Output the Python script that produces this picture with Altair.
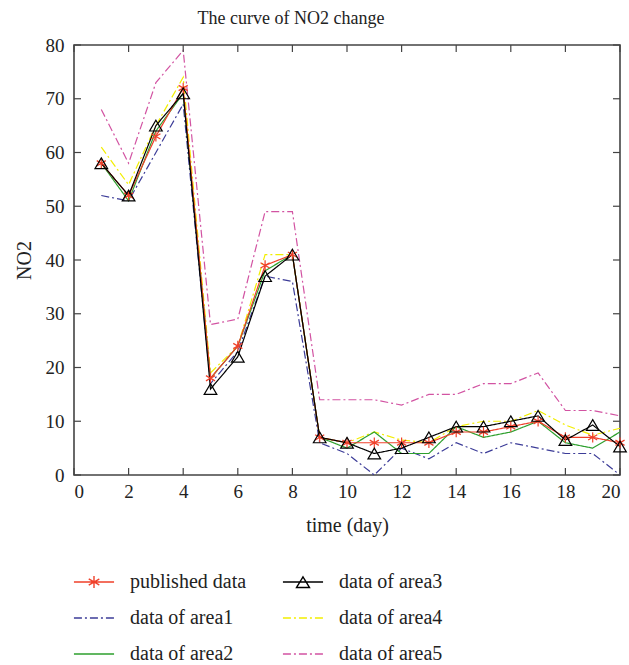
import altair as alt
import pandas as pd

days = list(range(1, 21))
published = [58, 52, 63, 72, 18, 24, 39, 41, 7, 6, 6, 6, 6, 8, 8, 9, 10, 7, 7, 6]
area1 = [52, 51, 60, 69, 17, 23, 37, 36, 6, 4, 0, 5, 3, 6, 4, 6, 5, 4, 4, 0]
area2 = [58, 51, 64, 71, 18, 24, 38, 41, 7, 5, 8, 4, 4, 9, 7, 8, 10, 6, 5, 8]
area3 = [58, 52, 65, 71, 16, 22, 37, 41, 7, 6, 4, 5, 7, 9, 9, 10, 11, 6.5, 9.3, 5.3]
area4 = [61, 54, 65, 74, 19, 24, 41, 41, 7, 6, 8, 6.5, 6, 9, 10, 10, 12, 9.3, 7.4, 8.7]
area5 = [68, 58, 73, 79, 28, 29, 49, 49, 14, 14, 14, 13, 15, 15, 17, 17, 19, 12, 12, 11]

xticks = [0, 2, 4, 6, 8, 10, 12, 14, 16, 18, 20]
yticks = [0, 10, 20, 30, 40, 50, 60, 70, 80]

draw_order = [
    ("data of area5", area5),
    ("data of area4", area4),
    ("data of area1", area1),
    ("data of area2", area2),
    ("published data", published),
    ("data of area3", area3),
]
rows = []
for name, vals in draw_order:
    for d, v in zip(days, vals):
        rows.append({"day": d, "NO2": v, "series": name})
df = pd.DataFrame(rows)

legend_order = ["published data", "data of area1", "data of area2",
                "data of area3", "data of area4", "data of area5"]
color_range = ["#f0402a", "#3c3c98", "#2ea02e", "#000000", "#f2ee00", "#d253a2"]
dash_range = [[1, 0], [8, 3, 2, 3], [1, 0], [1, 0], [8, 3, 2, 3], [8, 3, 2, 3]]

FONT = "Liberation Serif"
TXT = "#222222"

ASTER = "M0,-1V1M-0.87,-0.5L0.87,0.5M-0.87,0.5L0.87,-0.5"
TRI = "M0,-0.85L1,0.85H-1Z"
LEG_LINE = "M-1.18,0H1.18"
LEG_ASTER = LEG_LINE + "M0,-0.36V0.36M-0.31,-0.18L0.31,0.18M-0.31,0.18L0.31,-0.18"
LEG_TRI = LEG_LINE + "M0,-0.3L0.38,0.32H-0.38Z"
shape_range = [LEG_ASTER, LEG_LINE, LEG_LINE, LEG_TRI, LEG_LINE, LEG_LINE]

W, H = 546, 430

xscale = alt.Scale(domain=[0, 20], nice=False, zero=False)
yscale = alt.Scale(domain=[0, 80], nice=False)

xaxis = alt.Axis(values=xticks, title="time (day)", domain=False, ticks=False,
                 grid=False, labelPadding=7, titlePadding=14, format="d",
                 labelFont=FONT, labelFontSize=19, labelColor=TXT,
                 titleFont=FONT, titleFontSize=20, titleColor=TXT, titleFontWeight="normal")
yaxis = alt.Axis(values=yticks, title="NO2", domain=False, ticks=False,
                 grid=False, labelPadding=10, titlePadding=11, format="d",
                 labelFont=FONT, labelFontSize=19, labelColor=TXT,
                 titleFont=FONT, titleFontSize=20, titleColor=TXT, titleFontWeight="normal")

legend = alt.Legend(
    title=None, orient="none", legendX=2, legendY=519, columns=2,
    symbolSize=1156, symbolStrokeWidth=1.4, symbolFillColor="transparent",
    labelFont=FONT, labelFontSize=20, labelColor=TXT, labelOffset=18,
    columnPadding=33, rowPadding=8, padding=0, symbolOpacity=1,
)

color_enc = alt.Color("series:N", scale=alt.Scale(domain=legend_order, range=color_range),
                      legend=legend)
dash_enc = alt.StrokeDash("series:N", scale=alt.Scale(domain=legend_order, range=dash_range),
                          legend=legend)
shape_enc = alt.Shape("series:N", scale=alt.Scale(domain=legend_order, range=shape_range),
                      legend=legend)

X = alt.X("day:Q", scale=xscale, axis=xaxis)
Y = alt.Y("NO2:Q", scale=yscale, axis=yaxis)

lines = alt.Chart(df).mark_line(strokeWidth=1.2).encode(
    x=X, y=Y, color=color_enc, strokeDash=dash_enc,
)

# legend-only layer (no rows pass the filter; its scales give the legend symbols)
legend_layer = alt.Chart(df).transform_filter(alt.datum.day < 0).mark_point(
    filled=False, strokeWidth=1.4
).encode(x=X, y=Y, color=color_enc, strokeDash=dash_enc, shape=shape_enc)

pub_pts = alt.Chart(df).transform_filter(alt.datum.series == "published data").mark_point(
    shape=ASTER, size=110, filled=False, color="#f0402a", strokeWidth=1.2, opacity=1
).encode(x=X, y=Y)

tri_pts = alt.Chart(df).transform_filter(alt.datum.series == "data of area3").mark_point(
    shape=TRI, size=160, filled=False, color="#000000", strokeWidth=1.2, opacity=1
).encode(x=X, y=Y)

xt = pd.DataFrame({"day": xticks})
yt = pd.DataFrame({"NO2": yticks})
tick_color = "#444444"

bottom_ticks = alt.Chart(xt).mark_rule(color=tick_color, strokeWidth=1.2).encode(
    x=X, y=alt.value(H), y2=alt.value(H - 7))
top_ticks = alt.Chart(xt).mark_rule(color=tick_color, strokeWidth=1.2).encode(
    x=X, y=alt.value(0), y2=alt.value(7))
left_ticks = alt.Chart(yt).mark_rule(color=tick_color, strokeWidth=1.2).encode(
    y=Y, x=alt.value(0), x2=alt.value(7))
right_ticks = alt.Chart(yt).mark_rule(color=tick_color, strokeWidth=1.2).encode(
    y=Y, x=alt.value(W), x2=alt.value(W - 7))

chart = alt.layer(
    lines, legend_layer, pub_pts, tri_pts, bottom_ticks, top_ticks, left_ticks, right_ticks
).properties(
    width=W, height=H,
    title=alt.Title("The curve of NO2 change", font=FONT, fontSize=18, fontWeight="normal",
                    color=TXT, dx=-56, offset=8),
    autosize=alt.AutoSizeParams(type="none"),
    padding={"left": 74, "top": 45, "right": 9, "bottom": 190},
    background="white",
).configure_view(
    stroke="#444444", strokeWidth=1.6
).configure_axis(
    labelFont=FONT, labelFontSize=19, labelColor=TXT,
    titleFont=FONT, titleFontSize=20, titleColor=TXT, titleFontWeight="normal",
).configure_legend(
    labelFont=FONT, labelFontSize=20, labelColor=TXT,
)

chart.save("out.html", embed_options={"renderer": "svg", "actions": False})
